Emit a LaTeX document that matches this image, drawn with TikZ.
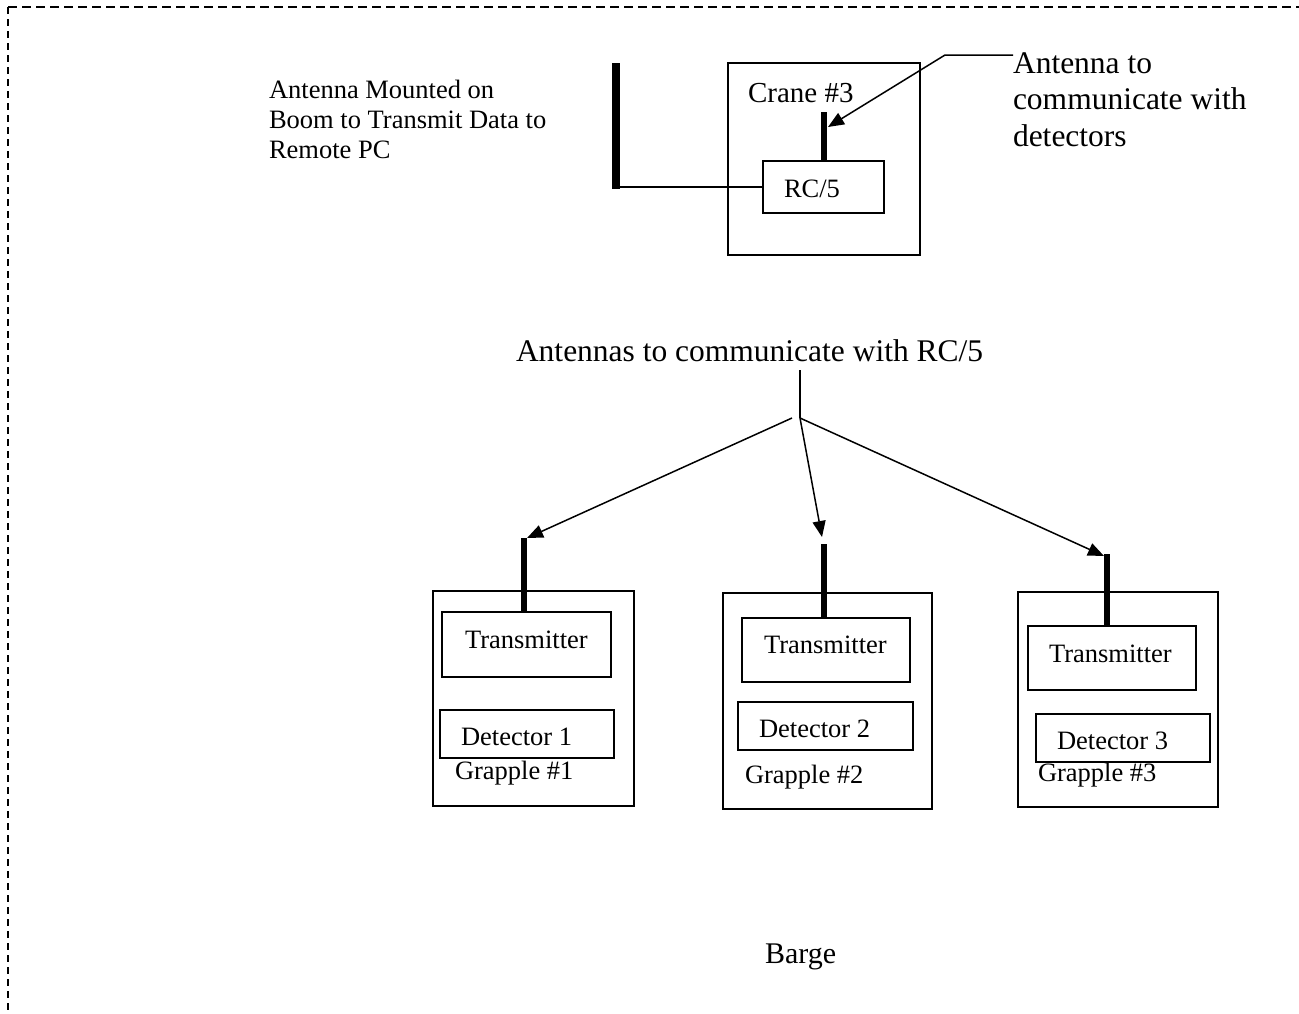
\documentclass[tikz,border=0pt]{standalone}
\usepackage{fontspec}
\setmainfont{Liberation Serif}
\usetikzlibrary{arrows.meta}

\tikzset{
  frame/.style={draw, line width=1.8pt, inner sep=0pt, outer sep=0pt, anchor=north west},
  antenna/.style={line width=6.5pt},
  wire/.style={line width=1.5pt},
  pointer/.style={line width=1.5pt, -{Triangle[length=16pt,width=13pt]}},
  border/.style={line width=1.6pt},
  txt/.style={inner sep=0pt, outer sep=0pt, anchor=base west},
  small/.style={txt, font=\fontsize{26.5}{30}\selectfont},
  big/.style={txt, font=\fontsize{31.5}{36}\selectfont},
}

\begin{document}
\begin{tikzpicture}[x=1pt, y=-1pt]
\useasboundingbox (0,0) rectangle (1299,1013);

% dashed outline along the top and left edges
\draw[border, dash pattern=on 9pt off 5pt] (8,7) -- (1299,7);
\draw[border, dash pattern=on 7pt off 5pt] (8,7) -- (8,1013);

% crane with its RC/5 unit
\node[frame, minimum width=192pt, minimum height=192pt] (crane) at (728,63) {};
\node[frame, minimum width=121pt, minimum height=52pt] (rc5) at (763,161) {};
\node[txt, font=\fontsize{29}{33}\selectfont] (cranelbl) at (748,102) {Crane \#3};
\node[small] (rc5lbl) at (784,197) {RC/5};

% boom antenna and its cable to the RC/5
\coordinate (boomtop) at (616,63);
\coordinate (boombot) at (616,189);
\draw[line width=7.5pt] (boomtop) -- (boombot);
\draw[wire] (boombot |- rc5.west) -- (rc5.west);

% crane antenna
\coordinate (crantop) at (824,112);
\draw[antenna] (crantop) -- (rc5.north -| crantop);

% labels of the boom antenna
\node[small] (boom1) at (269,98) {Antenna Mounted on};
\node[small] (boom2) at (269,128) {Boom to Transmit Data to};
\node[small] (boom3) at (269,158) {Remote PC};

% label and pointer for the crane antenna
\node[big] (det1) at (1013,73) {Antenna to};
\node[big] (det2) at (1013,109.5) {communicate with};
\node[big] (det3) at (1013,146) {detectors};
\coordinate (bend) at (945,55);
\draw[pointer] (det1.west |- bend) -- (bend) -- ([xshift=4pt, yshift=-15pt]crantop);

% grapples
\node[frame, minimum width=201pt, minimum height=215pt] (g1) at (433,591) {};
\node[frame, minimum width=169pt, minimum height=65pt] (t1) at (442,612) {};
\node[frame, minimum width=174pt, minimum height=48pt] (d1) at (440,710) {};
\node[small] (t1lbl) at (465,648) {Transmitter};
\node[small] (d1lbl) at (461,745) {Detector 1};
\node[small] (g1lbl) at (455,779) {Grapple \#1};

\node[frame, minimum width=209pt, minimum height=216pt] (g2) at (723,593) {};
\node[frame, minimum width=168pt, minimum height=64pt] (t2) at (742,618) {};
\node[frame, minimum width=175pt, minimum height=48pt] (d2) at (738,702) {};
\node[small] (t2lbl) at (764,653) {Transmitter};
\node[small] (d2lbl) at (759,737) {Detector 2};
\node[small] (g2lbl) at (745,783) {Grapple \#2};

\node[frame, minimum width=200pt, minimum height=215pt] (g3) at (1018,592) {};
\node[frame, minimum width=168pt, minimum height=64pt] (t3) at (1028,626) {};
\node[frame, minimum width=174pt, minimum height=48pt] (d3) at (1036,714) {};
\node[small] (t3lbl) at (1049,662) {Transmitter};
\node[small] (d3lbl) at (1057,749) {Detector 3};
\node[small] (g3lbl) at (1038,781) {Grapple \#3};

% grapple antennas
\coordinate (a1) at (524,538);
\coordinate (a2) at (824,544);
\coordinate (a3) at (1107,554);
\draw[antenna] (a1) -- (t1.north -| a1);
\draw[antenna] (a2) -- (t2.north -| a2);
\draw[antenna] (a3) -- (t3.north -| a3);

% common label and fan of pointers
\node[big] (common) at (516,361) {Antennas to communicate with RC/5};
\coordinate (stem) at (800,370);
\coordinate (hub) at (800,418);
\draw[wire] (stem) -- (hub);
\draw[pointer] ([xshift=-8pt]hub) -- ([xshift=3pt]a1);
\draw[pointer] (hub) -- ([xshift=-2pt, yshift=7pt]a2);
\draw[pointer] (hub) -- ([xshift=-3pt, yshift=-2pt]a3);

% barge
\node[txt, font=\fontsize{30}{34}\selectfont] (barge) at (765,963) {Barge};
\end{tikzpicture}
\end{document}
